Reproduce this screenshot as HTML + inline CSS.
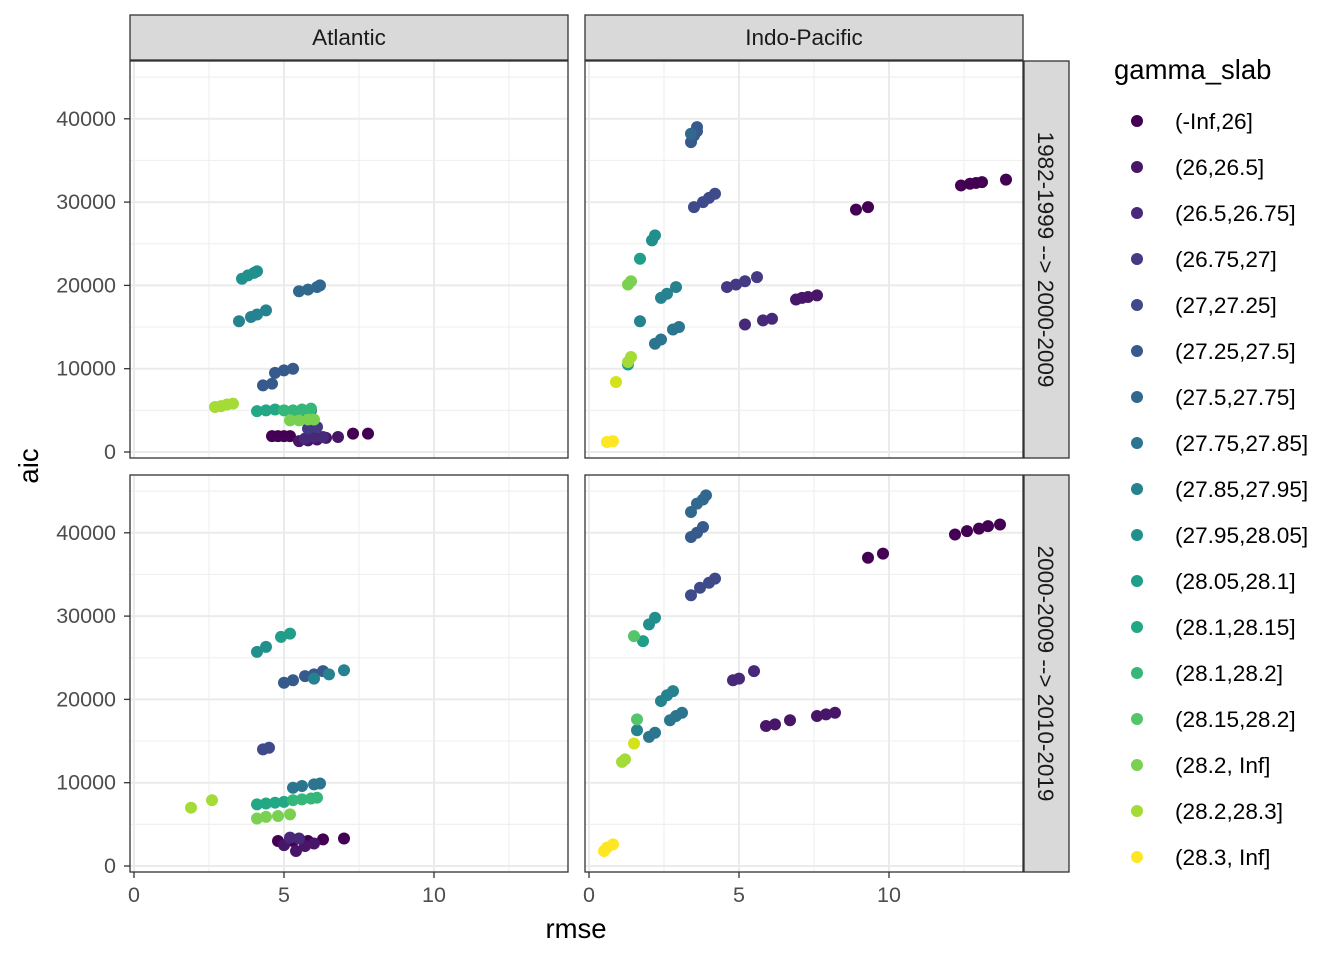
<!DOCTYPE html>
<html><head><meta charset="utf-8">
<style>
body{margin:0;background:#fff;}
svg{font-family:"Liberation Sans",sans-serif;}
</style></head>
<body>
<svg id="chart" width="1344" height="960" xmlns="http://www.w3.org/2000/svg"></svg>
<script>
const levels=["(-Inf,26]","(26,26.5]","(26.5,26.75]","(26.75,27]","(27,27.25]","(27.25,27.5]","(27.5,27.75]","(27.75,27.85]","(27.85,27.95]","(27.95,28.05]","(28.05,28.1]","(28.1,28.15]","(28.1,28.2]","(28.15,28.2]","(28.2, Inf]","(28.2,28.3]","(28.3, Inf]"];
const colors=["#440154","#481668","#482878","#443983","#3E4A89","#375A8C","#31688E","#2B758E","#26828E","#21908D","#1F9E89","#22A884","#35B779","#54C568","#7AD151","#A5DB36","#D2E21B"];
colors.push("#FDE725");
const xTicks=[0,5,10];
const yTicks=[0,10000,20000,30000,40000];
const facetCols=["Atlantic","Indo-Pacific"];
const facetRows=["1982-1999 --> 2000-2009","2000-2009 --> 2010-2019"];
const atlTopRmse=[4.6,4.8,5.0,5.2,7.3,7.8,5.5,5.8,6.1,6.4,6.8,5.7,6.0,6.3,5.8,6.1,5.9,5.6,4.3,4.6,4.7,5.0,5.3,5.5,5.8,6.1,6.2,3.5,3.9,4.1,4.4,3.6,3.8,4.0,4.1,4.1,4.4,4.7,5.0,5.3,5.6,5.9,5.2,5.5,5.8,6.0,2.7,2.9,3.1,3.3];
const atlTopAic=[1900,1900,1900,1900,2200,2200,1300,1400,1500,1700,1800,1600,1800,1800,2800,3000,5000,4800,8000,8200,9500,9800,10000,19300,19500,19800,20000,15700,16200,16500,17000,20800,21200,21500,21700,4900,5000,5100,5000,5000,5100,5200,3800,3800,3900,3900,5400,5500,5700,5800];
const atlTopLvl=[0,0,0,0,0,0,1,1,1,1,1,2,2,2,3,3,4,4,5,5,5,5,5,6,6,6,6,8,8,8,8,9,9,9,9,11,11,11,12,12,12,12,14,14,14,14,15,15,15,15];
const indTopRmse=[12.4,12.7,12.9,13.1,13.9,8.9,9.3,6.9,7.1,7.3,7.6,5.2,5.8,6.1,4.6,4.9,5.2,5.6,3.5,3.8,4.0,4.2,3.4,3.5,3.6,3.6,3.4,2.8,3.0,2.2,2.4,1.7,2.4,2.6,2.9,2.1,2.2,1.7,1.3,1.3,1.4,1.3,1.4,0.9,0.6,0.8];
const indTopAic=[32000,32200,32300,32400,32700,29100,29400,18300,18500,18600,18800,15300,15800,16000,19800,20100,20500,21000,29400,30000,30500,31000,37200,38000,38500,39000,38200,14700,15000,13000,13500,15700,18500,19000,19800,25400,26000,23200,10500,20100,20500,10800,11400,8400,1200,1300];
const indTopLvl=[0,0,0,0,0,0,0,1,1,1,1,2,2,2,3,3,3,3,4,4,4,4,5,5,5,5,6,7,7,7,7,8,8,8,8,9,9,10,10,14,14,15,15,16,17,17];
const atlBotRmse=[4.8,5.3,5.8,6.3,7.0,5.0,5.4,5.7,6.0,5.2,5.5,4.3,4.5,5.0,5.3,5.7,6.0,6.3,5.3,5.6,6.0,6.2,6.0,6.5,7.0,4.1,4.4,4.9,5.2,4.1,4.4,4.7,5.0,5.3,5.6,5.9,6.1,4.1,4.4,4.8,5.2,1.9,2.6];
const atlBotAic=[3000,3000,3000,3200,3300,2500,1800,2400,2700,3400,3300,14000,14200,22000,22300,22800,23000,23400,9400,9600,9800,9900,22500,23000,23500,25700,26300,27500,27900,7400,7500,7600,7700,7900,8000,8100,8200,5700,5900,6000,6200,7000,7900];
const atlBotLvl=[0,0,0,0,0,1,1,1,1,2,2,4,4,5,5,5,5,5,7,7,7,7,8,8,8,9,9,10,10,11,11,11,11,12,12,12,12,14,14,14,14,15,15];
const indBotRmse=[12.2,12.6,13.0,13.3,13.7,9.3,9.8,7.6,7.9,8.2,5.9,6.2,6.7,4.8,5.0,5.5,3.4,3.7,4.0,4.2,3.4,3.6,3.8,3.4,3.6,3.8,3.9,2.7,2.9,3.1,2.0,2.2,2.4,2.6,2.8,1.6,2.0,2.2,1.8,1.5,1.6,1.1,1.2,1.5,0.5,0.6,0.8];
const indBotAic=[39800,40200,40500,40800,41000,37000,37500,18000,18200,18400,16800,17000,17500,22300,22500,23400,32500,33400,34000,34500,39500,40000,40700,42500,43500,44000,44500,17500,18000,18400,15500,16000,19800,20500,21000,16300,29000,29800,27000,27600,17600,12500,12800,14700,1800,2200,2600];
const indBotLvl=[0,0,0,0,0,0,0,1,1,1,1,1,1,2,2,2,4,4,4,4,5,5,5,6,6,6,6,7,7,7,7,7,8,8,8,8,9,9,10,13,13,15,15,16,17,17,17];

const NS="http://www.w3.org/2000/svg";
const svg=document.getElementById('chart');
function mk(tag,attrs,parent){const e=document.createElementNS(NS,tag);for(const k in attrs)e.setAttribute(k,attrs[k]);(parent||svg).appendChild(e);return e;}
const colX=[130,585], panelW=438;
const rowY=[61,475], panelH=397;
const xScale=(c,v)=>colX[c]+4+v*30;
const yScale=(r,v)=>rowY[r]+391-v*0.00833;
const panels=[[atlTopRmse,atlTopAic,atlTopLvl,0,0],[indTopRmse,indTopAic,indTopLvl,1,0],[atlBotRmse,atlBotAic,atlBotLvl,0,1],[indBotRmse,indBotAic,indBotLvl,1,1]];
panels.forEach(([xs,ys,ls,c,r])=>{
  const g=mk('g',{});
  
  
  mk('rect',{x:colX[c],y:rowY[r],width:panelW,height:panelH,fill:'#fff'},g);
  for(let v=2.5;v<15;v+=5){const x=xScale(c,v);mk('line',{x1:x,x2:x,y1:rowY[r],y2:rowY[r]+panelH,stroke:'#f0f0f0','stroke-width':1.2},g);}
  for(let v=5000;v<48000;v+=10000){const y=yScale(r,v);mk('line',{x1:colX[c],x2:colX[c]+panelW,y1:y,y2:y,stroke:'#f0f0f0','stroke-width':1.2},g);}
  xTicks.forEach(v=>{const x=xScale(c,v);mk('line',{x1:x,x2:x,y1:rowY[r],y2:rowY[r]+panelH,stroke:'#ebebeb','stroke-width':2},g);});
  yTicks.forEach(v=>{const y=yScale(r,v);mk('line',{x1:colX[c],x2:colX[c]+panelW,y1:y,y2:y,stroke:'#ebebeb','stroke-width':2},g);});
  xs.forEach((xv,i)=>{
    const p=mk('circle',{cx:xScale(c,xv),cy:yScale(r,ys[i]),r:6,fill:colors[ls[i]]},g);
    
    
  });
  mk('rect',{x:colX[c],y:rowY[r],width:panelW,height:panelH,fill:'none',stroke:'#333','stroke-width':1.3},g);
});
facetCols.forEach((t,c)=>{
  mk('rect',{x:colX[c],y:15,width:panelW,height:45,fill:'#d9d9d9',stroke:'#333','stroke-width':1.3});
  const tx=mk('text',{x:colX[c]+panelW/2,y:45,'text-anchor':'middle','font-size':22.5,fill:'#1a1a1a'});tx.textContent=t;
  
  
});
facetRows.forEach((t,r)=>{
  mk('rect',{x:1024,y:rowY[r],width:45,height:panelH,fill:'#d9d9d9',stroke:'#333','stroke-width':1.3});
  const cy=rowY[r]+panelH/2;
  const tx=mk('text',{x:1038,y:cy,'text-anchor':'middle','font-size':22.5,fill:'#1a1a1a',transform:`rotate(90 1038 ${cy})`});tx.textContent=t;
  
  
});
[0,1].forEach(r=>yTicks.forEach(v=>{const y=yScale(r,v);
  mk('line',{x1:124,x2:130,y1:y,y2:y,stroke:'#333','stroke-width':1.3});
  const t=mk('text',{x:116,y:y+7,'text-anchor':'end','font-size':21.5,fill:'#4d4d4d'});t.textContent=v;
  
  
}));
[0,1].forEach(c=>xTicks.forEach(v=>{const x=xScale(c,v);
  mk('line',{x1:x,x2:x,y1:872,y2:878,stroke:'#333','stroke-width':1.3});
  const t=mk('text',{x:x,y:902,'text-anchor':'middle','font-size':21.5,fill:'#4d4d4d'});t.textContent=v;
  
  
}));
let t=mk('text',{x:576,y:938,'text-anchor':'middle','font-size':27.5,fill:'#000'});t.textContent='rmse';

t=mk('text',{x:38,y:466,'text-anchor':'middle','font-size':27.5,fill:'#000',transform:'rotate(-90 38 466)'});t.textContent='aic';

t=mk('text',{x:1114,y:79,'font-size':27.5,fill:'#000'});t.textContent='gamma_slab';

levels.forEach((l,i)=>{
  const y=121+46*i;
  const g=mk('g',{});
  
  
  mk('circle',{cx:1137,cy:y,r:6,fill:colors[i===16?17:i]},g);
  const tx=mk('text',{x:1175,y:y+8,'font-size':22.6,fill:'#000'},g);tx.textContent=l;
});
</script>
</body></html>
